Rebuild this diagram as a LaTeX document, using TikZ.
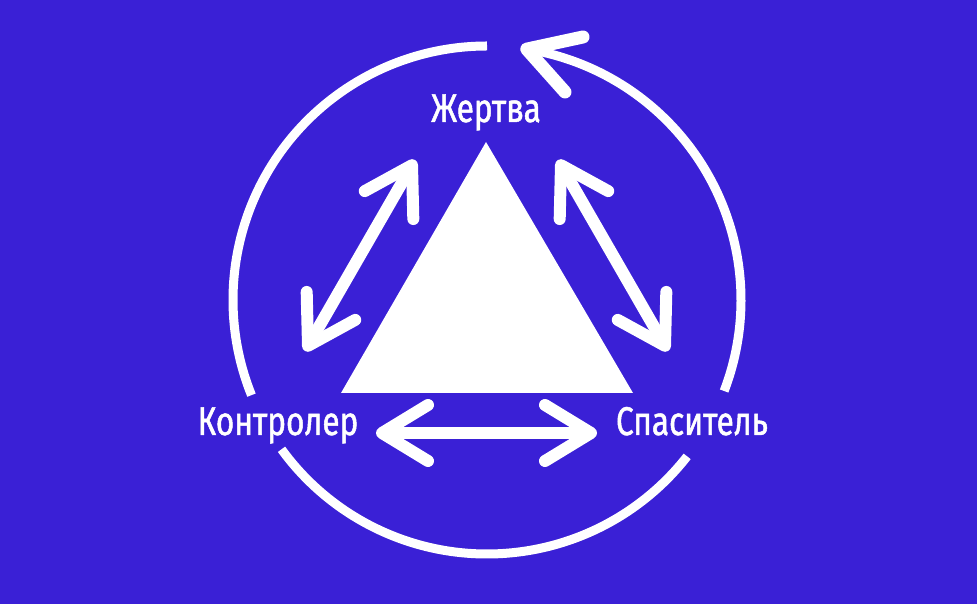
\documentclass[tikz,border=0pt]{standalone}
\usepackage{fontspec}
\setmainfont[FakeStretch=0.79, FakeBold=1.2]{Fira Sans}
\usetikzlibrary{arrows.meta,calc}
\definecolor{bgblue}{HTML}{3A20D6}
\tikzset{
  ring/.style={draw=white, line width=9pt, line cap=butt},
  dblarrow/.style={draw=white, line width=12pt, line cap=round, line join=round,
    {Straight Barb[length=46pt, width=56pt, round]}-{Straight Barb[length=46pt, width=56pt, round]}},
  headarm/.style={draw=white, line width=13pt, line cap=round, line join=round},
  lbl/.style={text=white, font=\fontsize{40}{44}\selectfont, inner sep=0pt, anchor=base},
  tri/.style={fill=white, draw=none}
}
\begin{document}
\begin{tikzpicture}[x=1pt, y=1pt]
  \fill[bgblue] (0,0) rectangle (977,604);
  \useasboundingbox (0,0) rectangle (977,604);
  \coordinate (c) at (487,304);
  % triangle
  \coordinate (ta) at (486,462);
  \coordinate (tl) at (341,211);
  \coordinate (tr) at (633,211);
  \fill[tri] (ta) -- (tl) -- (tr) -- cycle;
  % circle arcs
  \draw[ring] ($(c)+(90:254)$) arc[start angle=90, end angle=202, radius=254];
  \draw[ring] ($(c)+(216:254)$) arc[start angle=216, end angle=322, radius=254];
  \draw[ring] ($(c)+(-21:254)$) arc[start angle=-21, end angle=80, radius=254];
  % top arrow head
  \coordinate (tip) at ($(c)+(81:254)$);
  \coordinate (arm1) at (583,567);
  \coordinate (arm2) at (565,512);
  \draw[headarm] (arm1) -- (tip) -- (arm2);
  % double arrows
  \coordinate (l1) at (415,444);
  \coordinate (l2) at (305,253);
  \coordinate (r1) at (558,444);
  \coordinate (r2) at (668,253);
  \coordinate (h1) at (376,171);
  \coordinate (h2) at (597,171);
  \draw[dblarrow] (l1) -- (l2);
  \draw[dblarrow] (r1) -- (r2);
  \draw[dblarrow] (h1) -- (h2);
  % labels
  \node[lbl] (zh) at (486,482) {Жертва};
  \node[lbl] (ko) at (278,169) {Контролер};
  \node[lbl] (sp) at (692,169) {Спаситель};
\end{tikzpicture}
\end{document}
